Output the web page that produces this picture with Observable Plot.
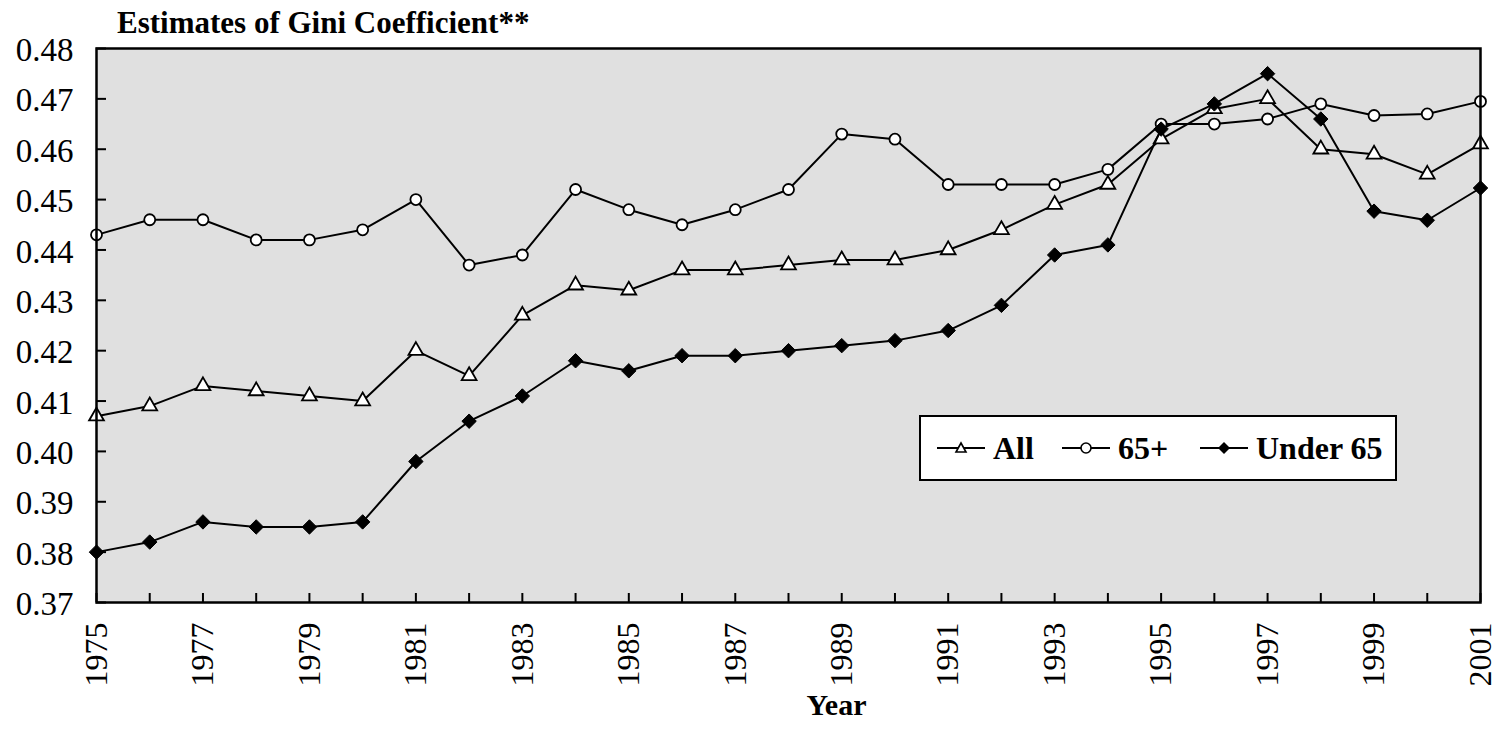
<!DOCTYPE html>
<html>
<head>
<meta charset="utf-8">
<script src="https://cdn.jsdelivr.net/npm/d3@7"></script>
<script src="https://cdn.jsdelivr.net/npm/@observablehq/plot@0.6"></script>
<style>
  html, body { margin: 0; padding: 0; background: #fff; }
  #wrap { position: relative; width: 1497px; height: 729px; font-family: "Liberation Serif", "Times New Roman", serif; }
  #chart svg, #chart svg text { font-family: "Liberation Serif", "Times New Roman", serif !important; }
  #title { position: absolute; left: 117px; top: 5px; font-size: 31px; line-height: normal; font-weight: bold; white-space: nowrap; }
  #legend { position: absolute; left: 919px; top: 415px; width: 474px; height: 62px; background: #fff; border: 2px solid #000; }
  .li { position: absolute; top: 0; height: 62px; display: flex; align-items: center; font-size: 32px; font-weight: bold; white-space: nowrap; }
  .li svg { margin-right: 8px; }
</style>
</head>
<body>
<div id="wrap">
  <div id="chart"></div>
  <div id="title">Estimates of Gini Coefficient**</div>
  <div id="legend"></div>
</div>
<script>
const years = d3.range(1975, 2002);
const allValues = [0.407,0.409,0.413,0.412,0.411,0.410,0.420,0.415,0.427,0.433,0.432,0.436,0.436,0.437,0.438,0.438,0.440,0.444,0.449,0.453,0.462,0.468,0.470,0.460,0.459,0.455,0.461];
const over65Values = [0.443,0.446,0.446,0.442,0.442,0.444,0.450,0.437,0.439,0.452,0.448,0.445,0.448,0.452,0.463,0.462,0.453,0.453,0.453,0.456,0.465,0.465,0.466,0.469,0.4667,0.467,0.4695];
const under65Values = [0.380,0.382,0.386,0.385,0.385,0.386,0.398,0.406,0.411,0.418,0.416,0.419,0.419,0.420,0.421,0.422,0.424,0.429,0.439,0.441,0.464,0.469,0.475,0.466,0.4477,0.4459,0.4523];
const seriesNames = ["All", "65+", "Under 65"];
const yTicks = [0.37,0.38,0.39,0.40,0.41,0.42,0.43,0.44,0.45,0.46,0.47,0.48];
const xLabelYears = years.filter(y => (y - 1975) % 2 === 0);

const toRows = (vals, name) => years.map((yr, i) => ({year: yr, value: vals[i], series: name}));
const allRows = toRows(allValues, seriesNames[0]);
const over65Rows = toRows(over65Values, seriesNames[1]);
const under65Rows = toRows(under65Values, seriesNames[2]);

const font = "'Liberation Serif', 'Times New Roman', serif";

const chart = Plot.plot({
  width: 1497,
  height: 729,
  marginLeft: 96,
  marginRight: 17,
  marginTop: 48,
  marginBottom: 127,
  style: {fontFamily: font, background: "#fff", color: "#000"},
  x: {domain: [1975, 2001]},
  y: {domain: [0.37, 0.48]},
  marks: [
    Plot.frame({fill: "#e0e0e0"}),
    Plot.axisY({ticks: yTicks, tickSize: -10, text: null, label: null, strokeWidth: 2}),
    Plot.axisY({ticks: yTicks, tickSize: 0, tickPadding: 23, tickFormat: d3.format(".2f"), fontSize: 33, label: null, dy: 2}),
    Plot.axisX({ticks: years, tickSize: -9, text: null, label: null, strokeWidth: 2}),
    Plot.axisX({ticks: xLabelYears, tickSize: 0, tickPadding: 20, tickRotate: -90, tickFormat: d => String(d), fontSize: 32, label: null}),
    Plot.text(["Year"], {frameAnchor: "bottom", dx: 48, dy: 112, fontWeight: "bold", fontSize: 30}),
    Plot.line(allRows, {x: "year", y: "value", stroke: "#000", strokeWidth: 2}),
    Plot.dot(allRows, {x: "year", y: "value", symbol: "triangle", r: 5.5, fill: "#fff", stroke: "#000", strokeWidth: 1.8}),
    Plot.line(over65Rows, {x: "year", y: "value", stroke: "#000", strokeWidth: 2}),
    Plot.dot(over65Rows, {x: "year", y: "value", symbol: "circle", r: 5.5, fill: "#fff", stroke: "#000", strokeWidth: 1.8}),
    Plot.line(under65Rows, {x: "year", y: "value", stroke: "#000", strokeWidth: 2}),
    Plot.dot(under65Rows, {x: "year", y: "value", symbol: "diamond2", r: 6.5, fill: "#000", stroke: "#000", strokeWidth: 1}),
    Plot.frame({stroke: "#000", strokeWidth: 2.5})
  ]
});
document.getElementById("chart").appendChild(chart);

// Legend
const legend = document.getElementById("legend");
const legendItems = [
  {name: seriesNames[0], left: 16, sym: '<path d="M24,7 L29,16 L19,16 Z" fill="#fff" stroke="#000" stroke-width="1.6"/>'},
  {name: seriesNames[1], left: 141, sym: '<circle cx="24" cy="12" r="5" fill="#fff" stroke="#000" stroke-width="1.6"/>'},
  {name: seriesNames[2], left: 279, sym: '<path d="M24,6 L30,12 L24,18 L18,12 Z" fill="#000"/>'}
];
for (const it of legendItems) {
  const d = document.createElement("div");
  d.className = "li";
  d.style.left = it.left + "px";
  d.innerHTML = '<svg width="48" height="24" viewBox="0 0 48 24"><line x1="0" y1="12" x2="48" y2="12" stroke="#000" stroke-width="2"/>' + it.sym + '</svg>' + it.name;
  legend.appendChild(d);
}
</script>
</body>
</html>
